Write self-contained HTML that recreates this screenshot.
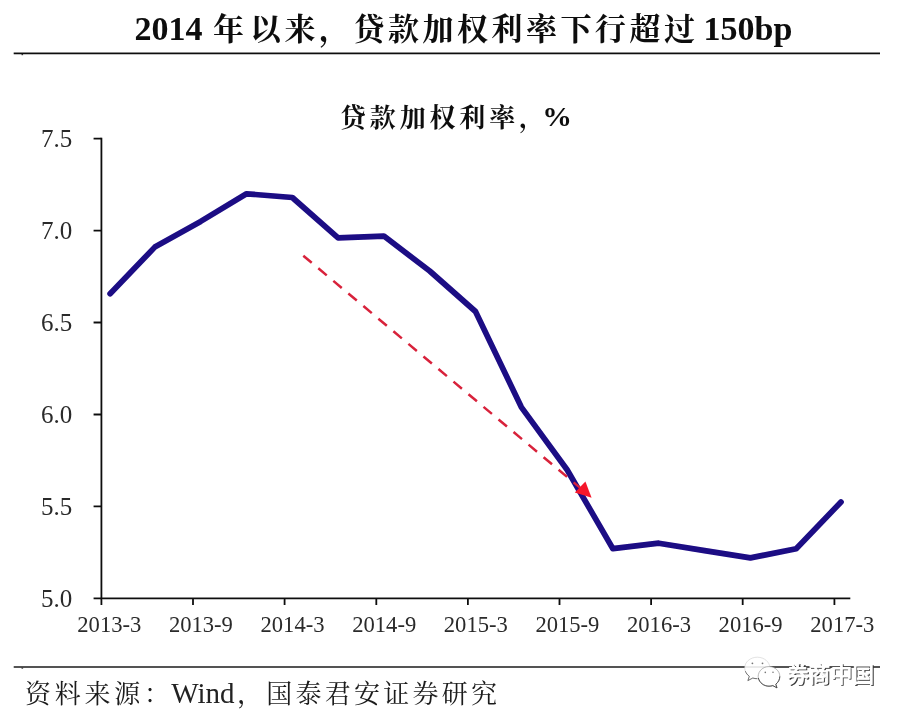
<!DOCTYPE html>
<html><head><meta charset="utf-8"><title>chart</title>
<style>
html,body{margin:0;padding:0;background:#fff;}
body{width:904px;height:714px;overflow:hidden;font-family:"Liberation Serif",serif;}
svg{display:block;}
text{font-family:"Liberation Serif",serif;}
</style></head><body>
<svg role="img" aria-label="2014 年以来，贷款加权利率下行超过 150bp" width="904" height="714" viewBox="0 0 904 714">
<defs><filter id="soft" x="0" y="0" width="904" height="714" filterUnits="userSpaceOnUse"><feGaussianBlur stdDeviation="0.45"/></filter></defs>
<rect width="904" height="714" fill="#fff"/>
<g filter="url(#soft)">
<path d="M13.700 53.400H880" stroke="#111" stroke-width="1.800"/><rect x="21.500" y="54" width="1.600" height="1.200" fill="#333"/>
<text x="134.6" y="40.2" font-size="34" font-weight="bold" fill="#0a0a0a">2014</text>
<text x="703.6" y="40.2" font-size="34" font-weight="bold" fill="#0a0a0a">150bp</text>
<text x="213" y="40" font-size="31" font-weight="bold" fill="#0a0a0a" style="font-family:'Liberation Serif','Noto Serif CJK SC',serif;">年</text>
<text x="250" y="40" font-size="31" font-weight="bold" fill="#0a0a0a" textLength="445" lengthAdjust="spacing" style="font-family:'Liberation Serif','Noto Serif CJK SC',serif;">以来，贷款加权利率下行超过</text>
<text x="340" y="127" font-size="26" font-weight="bold" fill="#111" textLength="205" lengthAdjust="spacing" style="font-family:'Liberation Serif','Noto Serif CJK SC',serif;">贷款加权利率，</text>
<text transform="translate(542.200 125.500) scale(1.080 1)" font-size="27.500" font-weight="bold" fill="#111">%</text>
<g stroke="#111" stroke-width="1.8" fill="none">
<path d="M101.4 137.7V598.4H850.3"/>
<path d="M93.6 138.6H101.4M93.6 230.6H101.4M93.6 322.5H101.4M93.6 414.5H101.4M93.6 506.4H101.4M93.6 598.4H101.4M101.4 598.4V605M193.0 598.4V605M284.6 598.4V605M376.3 598.4V605M467.9 598.4V605M559.5 598.4V605M651.1 598.4V605M742.7 598.4V605M834.4 598.4V605"/>
</g>
<g font-size="25" fill="#2a2a2a" text-anchor="end">
<text x="72.3" y="147.0">7.5</text>
<text x="72.3" y="239.0">7.0</text>
<text x="72.3" y="330.9">6.5</text>
<text x="72.3" y="422.9">6.0</text>
<text x="72.3" y="514.8">5.5</text>
<text x="72.3" y="606.8">5.0</text>
</g>
<g font-size="22.6" fill="#2a2a2a" text-anchor="middle">
<text x="109.3" y="632.2">2013-3</text>
<text x="200.9" y="632.2">2013-9</text>
<text x="292.5" y="632.2">2014-3</text>
<text x="384.2" y="632.2">2014-9</text>
<text x="475.8" y="632.2">2015-3</text>
<text x="567.4" y="632.2">2015-9</text>
<text x="659.0" y="632.2">2016-3</text>
<text x="750.6" y="632.2">2016-9</text>
<text x="842.3" y="632.2">2017-3</text>
</g>
<polyline points="110.1,293.8 154.8,247.1 200.7,221.4 246.5,193.8 292.3,197.5 338.1,237.9 383.9,236.1 429.7,271.0 475.5,311.5 521.3,407.1 567.1,469.7 612.9,548.7 658.8,543.2 704.6,550.6 750.4,557.9 796.2,548.7 841.0,502.0" fill="none" stroke="#1a0984" stroke-width="5.700" stroke-linejoin="round" stroke-linecap="round"/>
<line x1="303.3" y1="255.7" x2="581" y2="488.6" stroke="#d8213a" stroke-width="2.5" stroke-dasharray="11 8.6"/>
<polygon points="591.6,497.7 585.4,481.4 574.8,492.6" fill="#f5182c"/>
<path d="M13.700 667H880" stroke="#1c1c1c" stroke-width="1.600"/><rect x="21.500" y="667.500" width="1.600" height="1.200" fill="#333"/>
<text x="25" y="703" font-size="26" fill="#1a1a1a" textLength="145" lengthAdjust="spacing" style="font-family:'Liberation Serif','Noto Serif CJK SC',serif;">资料来源：</text>
<text x="171.300" y="702.800" font-size="29" fill="#222">Wind</text>
<text x="237" y="703" font-size="26" fill="#1a1a1a" textLength="260" lengthAdjust="spacing" style="font-family:'Liberation Serif','Noto Serif CJK SC',serif;">，国泰君安证券研究</text>
<g>
<path d="M757.3 657.2c-7 0-12.600 4.800-12.600 10.800 0 3.300 1.800 6.300 4.600 8.300l-1.400 4.300 4.900-2.600c1.400.5 2.900.7 4.500.7 7 0 12.600-4.800 12.600-10.700s-5.600-10.800-12.600-10.800z" fill="#fff" fill-opacity="0.88" stroke="#c4c4c4" stroke-width="0.5"/>
<path d="M769 666.6c-6 0-10.800 4.400-10.800 9.800s4.800 9.800 10.800 9.800c1.300 0 2.600-.2 3.800-.6l4.200 2.300-1.200-3.700c2.400-1.800 4-4.600 4-7.800 0-5.400-4.800-9.800-10.800-9.800z" fill="#fff" stroke="#8a8a8a" stroke-width="0.6"/>
<path d="M758.400 678c1 4.600 5.400 8.200 10.600 8.200 1.300 0 2.600-.2 3.800-.6l4.200 2.300-1.200-3.700c2.400-1.800 4-4.600 4-7.800" fill="none" stroke="#444" stroke-width="0.9"/>
<path d="M745.400 671.200c.7 2 2.100 3.800 3.900 5.100l-1.400 4.300 4.900-2.600c1.400.5 2.900.7 4.500.7" fill="none" stroke="#555" stroke-width="0.8"/>
<g fill="#777"><circle cx="752.4" cy="663.3" r="0.9"/><circle cx="762.5" cy="663.3" r="0.9"/><circle cx="765.3" cy="672.4" r="0.8"/><circle cx="773" cy="672.2" r="0.8"/></g>
<text x="787" y="682" font-size="21.5" fill="#333" stroke="#333" stroke-width="0.5" textLength="87" lengthAdjust="spacing" transform="translate(1.2 1.2)" style="font-family:'Liberation Sans','Noto Sans CJK SC',sans-serif;">券商中国</text>
<text x="787" y="682" font-size="21.5" fill="#fff" stroke="#fff" stroke-width="0.9" textLength="87" lengthAdjust="spacing" style="font-family:'Liberation Sans','Noto Sans CJK SC',sans-serif;">券商中国</text>
</g>
</g>
</svg>
</body></html>
